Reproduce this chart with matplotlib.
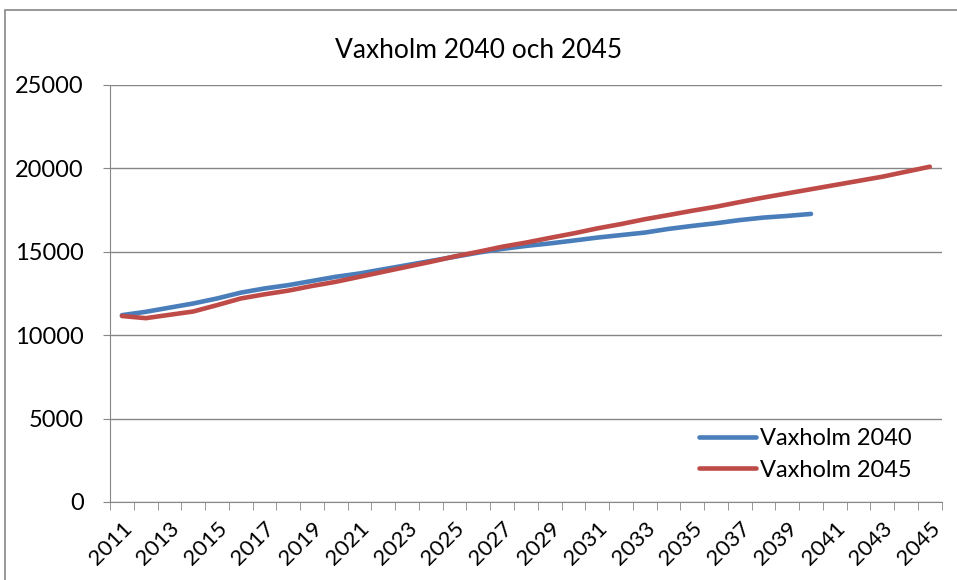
import matplotlib.pyplot as plt
import numpy as np
from matplotlib.patches import Rectangle

years = list(range(2011, 2046))

# befolkningsprognos, 2040-serien slutar 2040
vaxholm_2040 = [11200, 11400, 11650, 11900, 12200, 12550, 12800, 13000, 13250, 13500,
                13700, 13950, 14200, 14450, 14700, 14950, 15170, 15350, 15500, 15670,
                15850, 16000, 16150, 16370, 16550, 16710, 16900, 17050, 17150, 17270]
vaxholm_2045 = [11150, 11020, 11220, 11420, 11800, 12200, 12450, 12670, 12950, 13200,
                13500, 13800, 14100, 14400, 14720, 15000, 15300, 15550, 15830, 16100,
                16400, 16660, 16950, 17200, 17460, 17700, 17980, 18250, 18500, 18750,
                19000, 19250, 19500, 19800, 20100]

blue = '#4A7EBB'
red = '#BE4B48'
grey = '#868686'

plt.rcParams['font.family'] = ['Lato', 'DejaVu Sans']

fig = plt.figure(figsize=(9.57, 5.8), dpi=100)
ax = fig.add_axes([0.115, 0.1345, 0.869, 0.719])

# ram runt hela diagrammet
fig.patches.append(Rectangle((5 / 957, -0.1), 1.2, 1 - 10 / 580 + 0.1,
                             transform=fig.transFigure, fill=False,
                             edgecolor=grey, linewidth=1.2))

x40 = np.arange(len(vaxholm_2040))
x45 = np.arange(len(vaxholm_2045))
ax.plot(x40, vaxholm_2040, color=blue, lw=3.3, solid_capstyle='round', label='Vaxholm 2040')
ax.plot(x45, vaxholm_2045, color=red, lw=3.3, solid_capstyle='round', label='Vaxholm 2045')

ax.set_xlim(-0.5, len(years) - 0.5)
ax.set_ylim(0, 25000)
ax.set_yticks(range(0, 25001, 5000))
ax.tick_params(axis='y', labelsize=17, length=5, color=grey, pad=14)
ax.yaxis.grid(True, color=grey, lw=1)
ax.set_axisbelow(True)

# kategorimarkeringar mellan åren, etiketter vartannat år
ax.set_xticks(np.arange(-0.5, len(years), 1.0), minor=True)
ax.set_xticks(np.arange(0, len(years), 2))
ax.set_xticklabels([str(y) for y in years[::2]], rotation=45, ha='right',
                   rotation_mode='anchor', fontsize=16)
ax.tick_params(axis='x', which='major', length=0, pad=12)
ax.tick_params(axis='x', which='minor', length=6, color=grey)

for side in ['top', 'right']:
    ax.spines[side].set_visible(False)
ax.spines['left'].set_color(grey)
ax.spines['bottom'].set_color(grey)

fig.text(0.5, 1 - 50 / 580, 'Vaxholm 2040 och 2045', ha='center', va='center', fontsize=19)

ax.legend(loc='lower right', bbox_to_anchor=(0.99, 0.0), frameon=False, fontsize=17,
          handlelength=2.4, handletextpad=0.2, labelspacing=0.45)

fig.savefig('out.png', dpi=100)
